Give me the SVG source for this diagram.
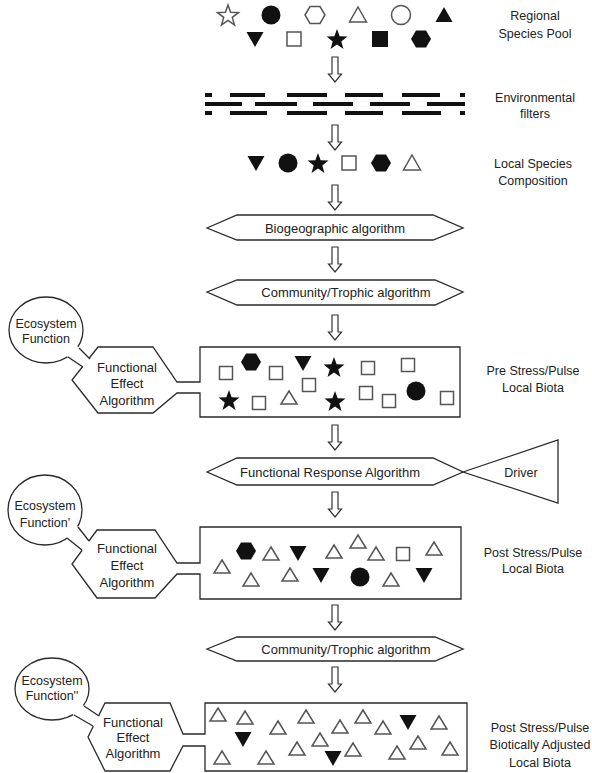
<svg xmlns="http://www.w3.org/2000/svg" width="592" height="773" viewBox="0 0 592 773">
<style>
.t{font-family:"Liberation Sans",Arial,sans-serif;font-size:12.5px;fill:#222;text-anchor:middle}
.b{font-size:13px}
.o{fill:#fff;stroke:#2a2a2a;stroke-width:1.3}
.f{fill:#111;stroke:none}
.so{fill:#fff;stroke:#555;stroke-width:1.5}
.ln{stroke:#2a2a2a;stroke-width:1.3;fill:none}
.wh{fill:#fff;stroke:none}
.dash{stroke:#111;stroke-width:4}
.arw{fill:#fff;stroke:#333;stroke-width:1.2}
</style>
<defs>
<polygon id="star" points="0,-11 2.65,-3.64 10.46,-3.4 4.28,1.39 6.47,8.9 0,4.5 -6.47,8.9 -4.28,1.39 -10.46,-3.4 -2.65,-3.64"/>
<polygon id="hex" points="-10,0 -5,-8.5 5,-8.5 10,0 5,8.5 -5,8.5"/>
<circle id="circ" r="9.5"/>
<polygon id="tri" points="0,-8 8.5,7 -8.5,7"/>
<polygon id="tris" points="0,-7 8,6 -8,6"/>
<polygon id="trid" points="-8.5,-7 8.5,-7 0,8"/>
<rect id="sq" x="-7" y="-7" width="14" height="14"/>
<rect id="sqs" x="-6.5" y="-6.5" width="13" height="13"/>
<rect id="sqb" x="-8" y="-8" width="16" height="16"/>
<path id="arr" d="M-3,0 V17 H-6.5 L0,25 L6.5,17 H3 V0 Z"/>
</defs>

<g id="regional-pool">
<use href="#star" class="so" x="228" y="16"/>
<use href="#circ" class="f" x="271" y="15"/>
<use href="#hex" class="so" x="315" y="15"/>
<use href="#tri" class="so" x="358" y="15"/>
<use href="#circ" class="so" x="401" y="15"/>
<use href="#tri" class="f" x="444" y="15"/>
<use href="#trid" class="f" x="255" y="39"/>
<use href="#sq" class="so" x="294" y="39"/>
<use href="#star" class="f" x="337" y="40"/>
<use href="#sqb" class="f" x="380" y="39"/>
<use href="#hex" class="f" x="421" y="39"/>
<text class="t" x="535" y="19.5">Regional</text>
<text class="t" x="535" y="37.5">Species Pool</text>
</g>

<g id="env-filters">
<g class="dash">
<path d="M205,95H212M230,95H265M287,95H327M345,95H383M402,95H440M460,95H465"/>
<path d="M205,104H242M255,104H297M313,104H353M370,104H410M427,104H465"/>
<path d="M205,113H212M230,113H267M287,113H327M345,113H383M402,113H441M460,113H465"/>
</g>
<text class="t" x="535" y="101.5">Environmental</text>
<text class="t" x="535" y="117.5">filters</text>
</g>

<g id="local-composition">
<use href="#trid" class="f" x="256" y="163"/>
<use href="#circ" class="f" x="288" y="163"/>
<use href="#star" class="f" x="318" y="164"/>
<use href="#sq" class="so" x="349" y="163"/>
<use href="#hex" class="f" x="381" y="163"/>
<use href="#tri" class="so" x="412" y="163"/>
<text class="t" x="533" y="167.5">Local Species</text>
<text class="t" x="533" y="184.5">Composition</text>
</g>

<g id="biogeographic">
<path class="o" d="M207,228 L237,215 H433 L463,228 L433,240 H237 Z"/>
<text class="t b" x="335" y="232.5">Biogeographic algorithm</text>
</g>

<g id="community1">
<path class="o" d="M207,292 L237,280 H435 L463,292 L435,305 H237 Z"/>
<text class="t b" x="346" y="296.5">Community/Trophic algorithm</text>
</g>

<g id="pre-stress">
<ellipse class="o" cx="46" cy="330" rx="37" ry="33"/>
<path class="o" d="M200,382 V347 H460 V417 H200 V393 H177 L153,413 H98 L72,380 L98,347 H153 L177,382 Z"/>
<polygon class="wh" points="76.9,345.9 92.1,361.1 85.5,368.7 65.5,355.3"/>
<path class="ln" d="M79,348 L90,359 M68,357 L83,367"/>
<text class="t" x="46" y="327.5">Ecosystem</text>
<text class="t" x="46" y="342.5">Function</text>
<text class="t b" x="127" y="371.5">Functional</text>
<text class="t b" x="127" y="387.5">Effect</text>
<text class="t b" x="127" y="404.5">Algorithm</text>
<use href="#sqs" class="so" x="226" y="373"/>
<use href="#hex" class="f" x="251" y="362"/>
<use href="#sqs" class="so" x="276" y="373"/>
<use href="#trid" class="f" x="303" y="363"/>
<use href="#star" class="f" x="334" y="368"/>
<use href="#sqs" class="so" x="368" y="368"/>
<use href="#sqs" class="so" x="408" y="365"/>
<use href="#star" class="f" x="229" y="401"/>
<use href="#sqs" class="so" x="259" y="403"/>
<use href="#tris" class="so" x="289" y="398"/>
<use href="#sqs" class="so" x="309" y="385"/>
<use href="#star" class="f" x="335" y="402"/>
<use href="#sqs" class="so" x="366" y="393"/>
<use href="#sqs" class="so" x="389" y="401"/>
<use href="#circ" class="f" x="416" y="391"/>
<use href="#sqs" class="so" x="447" y="398"/>
<text class="t" x="533" y="374.5">Pre Stress/Pulse</text>
<text class="t" x="533" y="391.5">Local Biota</text>
</g>

<g id="functional-response">
<path class="o" d="M207,472 L237,458 H433 L463,472 L433,485 H237 Z"/>
<text class="t b" x="330" y="476.5">Functional Response Algorithm</text>
</g>

<g id="driver">
<path class="o" d="M463,472 L558,440 V503 Z"/>
<text class="t" x="521" y="476.5">Driver</text>
</g>

<g id="post-stress">
<ellipse class="o" cx="45" cy="510" rx="37" ry="35"/>
<path class="o" d="M200,563 V527 H461 V599 H200 V574 H177 L155,598 H97 L72,564 L97,530 H155 L177,563 Z"/>
<polygon class="wh" points="76.1,524.6 90.9,543.4 84.3,551.9 64.7,536.1"/>
<path class="ln" d="M78,527 L89,541 M67,538 L82,550"/>
<text class="t" x="45" y="509.5">Ecosystem</text>
<text class="t" x="45" y="526.5">Function'</text>
<text class="t b" x="127" y="552.5">Functional</text>
<text class="t b" x="127" y="569.5">Effect</text>
<text class="t b" x="127" y="586.5">Algorithm</text>
<use href="#tris" class="so" x="222" y="567"/>
<use href="#hex" class="f" x="246" y="551"/>
<use href="#tris" class="so" x="271" y="554"/>
<use href="#trid" class="f" x="298" y="553"/>
<use href="#tris" class="so" x="251" y="580"/>
<use href="#tris" class="so" x="290" y="575"/>
<use href="#trid" class="f" x="321" y="575"/>
<use href="#tris" class="so" x="334" y="552"/>
<use href="#tris" class="so" x="358" y="542"/>
<use href="#tris" class="so" x="376" y="554"/>
<use href="#sqs" class="so" x="403" y="554"/>
<use href="#tris" class="so" x="434" y="549"/>
<use href="#circ" class="f" x="360" y="577"/>
<use href="#tris" class="so" x="391" y="580"/>
<use href="#trid" class="f" x="424" y="575"/>
<text class="t" x="533" y="556.5">Post Stress/Pulse</text>
<text class="t" x="533" y="572.5">Local Biota</text>
</g>

<g id="community2">
<path class="o" d="M207,649 L237,637 H435 L463,649 L435,661 H237 Z"/>
<text class="t b" x="346" y="653.5">Community/Trophic algorithm</text>
</g>

<g id="adjusted">
<ellipse class="o" cx="52" cy="689" rx="37" ry="31"/>
<path class="o" d="M205,734 V703 H467 V771 H205 V746 H183 L170,771 H105 L88,737 L105,703 H170 L183,734 Z"/>
<polygon class="wh" points="81.5,704.3 101.5,717.7 95.6,727.5 71.4,713.5"/>
<path class="ln" d="M84,706 L99,716 M74,715 L93,726"/>
<text class="t" x="52" y="684.5">Ecosystem</text>
<text class="t" x="52" y="699.5">Function''</text>
<text class="t b" x="133" y="726.5">Functional</text>
<text class="t b" x="133" y="741.5">Effect</text>
<text class="t b" x="133" y="757.5">Algorithm</text>
<use href="#tris" class="so" x="218" y="715"/>
<use href="#tris" class="so" x="245" y="718"/>
<use href="#trid" class="f" x="243" y="739"/>
<use href="#tris" class="so" x="222" y="758"/>
<use href="#tris" class="so" x="266" y="758"/>
<use href="#tris" class="so" x="278" y="728"/>
<use href="#tris" class="so" x="306" y="717"/>
<use href="#tris" class="so" x="297" y="749"/>
<use href="#tris" class="so" x="320" y="740"/>
<use href="#trid" class="f" x="333" y="758"/>
<use href="#tris" class="so" x="340" y="727"/>
<use href="#tris" class="so" x="363" y="717"/>
<use href="#tris" class="so" x="353" y="750"/>
<use href="#tris" class="so" x="383" y="728"/>
<use href="#trid" class="f" x="408" y="722"/>
<use href="#tris" class="so" x="439" y="723"/>
<use href="#tris" class="so" x="397" y="753"/>
<use href="#tris" class="so" x="418" y="743"/>
<use href="#tris" class="so" x="450" y="749"/>
<text class="t" x="540" y="731.5">Post Stress/Pulse</text>
<text class="t" x="540" y="748.5">Biotically Adjusted</text>
<text class="t" x="540" y="766.5">Local Biota</text>
</g>

<g id="connectors">
<use href="#arr" class="arw" x="335" y="57"/>
<use href="#arr" class="arw" x="335" y="125"/>
<use href="#arr" class="arw" x="335" y="185"/>
<use href="#arr" class="arw" x="335" y="247"/>
<use href="#arr" class="arw" x="335" y="315"/>
<use href="#arr" class="arw" x="335" y="425"/>
<use href="#arr" class="arw" x="335" y="492"/>
<use href="#arr" class="arw" x="335" y="605"/>
<use href="#arr" class="arw" x="335" y="667"/>
</g>
</svg>
